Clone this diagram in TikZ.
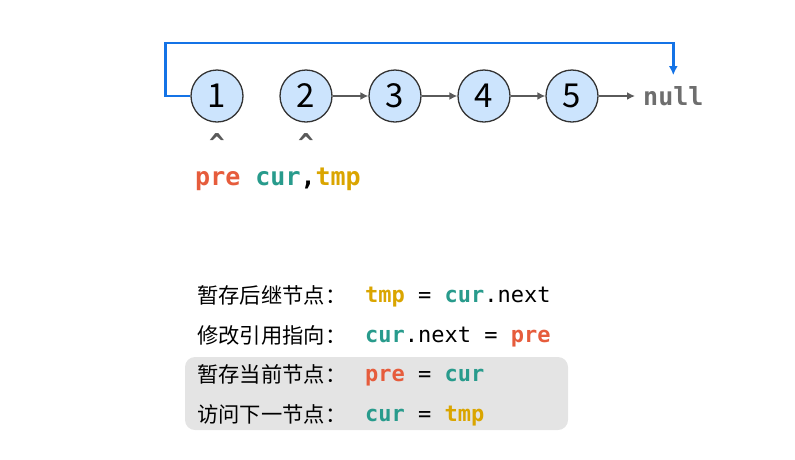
\documentclass[tikz,border=0pt]{standalone}
\usepackage{fontspec}
\setmainfont{Noto Sans}
\setmonofont{DejaVu Sans Mono}
\newfontfamily\cjk{Noto Sans CJK SC}
\usetikzlibrary{arrows.meta}

\definecolor{nodefill}{RGB}{204,228,253}
\definecolor{linkgray}{RGB}{90,90,90}
\definecolor{nullgray}{RGB}{110,110,110}
\definecolor{backblue}{RGB}{20,115,230}
\definecolor{boxgray}{RGB}{228,228,228}
\definecolor{precol}{RGB}{230,92,60}
\definecolor{curcol}{RGB}{40,155,140}
\definecolor{tmpcol}{RGB}{218,165,0}

\newcommand{\kpre}{\textcolor{precol}{\bfseries pre}}
\newcommand{\kcur}{\textcolor{curcol}{\bfseries cur}}
\newcommand{\ktmp}{\textcolor{tmpcol}{\bfseries tmp}}

\tikzset{
  listnode/.style={circle, draw=black!80, fill=nodefill, line width=1.3pt,
    minimum size=52pt, inner sep=0pt, font=\fontsize{33}{33}\selectfont\cjk\addfontfeature{FakeBold=0}},
  link/.style={draw=linkgray, line width=2pt, -{Latex[length=8pt,width=8pt]}},
  backlink/.style={draw=backblue, line width=2.5pt, -{Latex[length=9pt,width=9pt]}},
  code/.style={inner sep=0pt, font=\fontsize{25}{30}\selectfont\ttfamily\bfseries},
  caret/.style={inner sep=0pt, text=linkgray, font=\fontsize{26}{26}\selectfont\ttfamily\bfseries},
  rowlabel/.style={inner sep=0pt, anchor=west, font=\fontsize{21.3}{24}\selectfont\cjk},
  rowcode/.style={inner sep=0pt, anchor=west, text height=0.75em, text depth=0.2em,
    font=\fontsize{22}{26}\selectfont\ttfamily},
}

\begin{document}
\begin{tikzpicture}[x=1pt, y=-1pt]
  \useasboundingbox (0,0) rectangle (795,459);
  % list
  \foreach \i/\x in {1/217, 2/306, 3/395, 4/484, 5/572}
    \node[listnode] (n\i) at (\x,96) {\i};
  \node[code, anchor=west, text=nullgray] (null) at (643,96) {null};
  \foreach \a/\b in {2/3, 3/4, 4/5}
    \draw[link] (n\a) -- (n\b);
  \draw[link, shorten >=8pt] (n5) -- (null);
  \draw[backlink] (n1.west) -- ++(-25,0) -- ++(0,-53) -| ([yshift=11pt]null.north);
  % pointers
  \node[caret] (c1) at (217,143) {\symbol{94}};
  \node[caret] (c2) at (306,143) {\symbol{94}};
  \node[code, anchor=west] (ptrs) at (195,179) {\textcolor{precol}{pre} \textcolor{curcol}{cur},\textcolor{tmpcol}{tmp}};
  % steps
  \fill[boxgray, rounded corners=10pt] (185,357) rectangle (568,430);
  \foreach \y/\txt/\cd in {
    296/暂存后继节点：/{\ktmp{} = \kcur.next},
    336/修改引用指向：/{\kcur.next = \kpre},
    375/暂存当前节点：/{\kpre{} = \kcur},
    415/访问下一节点：/{\kcur{} = \ktmp}} {
    \node[rowlabel] (lab\y) at (197,\y-1) {\txt};
    \node[rowcode] (code\y) at (365,\y+4) {\cd};
  }
\end{tikzpicture}
\end{document}
